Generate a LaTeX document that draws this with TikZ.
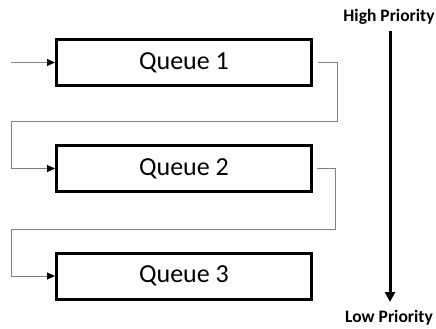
\documentclass[tikz,border=0pt]{standalone}
\usepackage{fontspec}
\setmainfont{Carlito}
\usetikzlibrary{arrows.meta,calc}
\begin{document}
\begin{tikzpicture}[x=1pt,y=-1pt,
  queuebox/.style={draw=black,line width=3pt,minimum width=255pt,minimum height=46pt,inner sep=0pt,font=\fontsize{26}{30}\selectfont},
  conn/.style={draw=black!50,line width=1pt,-{Triangle[length=8pt,width=7pt,color=black]}},
  prio/.style={font=\bfseries\fontsize{17.5}{20}\selectfont,inner sep=0pt}]
\useasboundingbox (0,0) rectangle (436,329);
\node[queuebox] (q1) at (184,62.5) {Queue 1};
\node[queuebox] (q2) at (184,168.5) {Queue 2};
\node[queuebox] (q3) at (184,276) {Queue 3};
\coordinate (in) at (11,62.5);
\draw[conn] (in) -- (q1.west);
\coordinate (s1) at (318,62.5);
\coordinate (t1) at (337,121);
\coordinate (u1) at (11,121);
\draw[conn] (s1) -| (t1) -- (u1) |- (q2.west);
\coordinate (s2) at (317,168.5);
\coordinate (t2) at (335,229);
\coordinate (u2) at (11,229);
\draw[conn] (s2) -| (t2) -- (u2) |- (q3.west);
\node[prio] (hi) at (389,17) {High Priority};
\node[prio] (lo) at (389,318) {Low Priority};
\coordinate (atop) at (390,31);
\coordinate (abot) at (390,302);
\draw[line width=3pt,-{Triangle[length=10pt,width=10pt]}] (atop) -- (abot);
\end{tikzpicture}
\end{document}
